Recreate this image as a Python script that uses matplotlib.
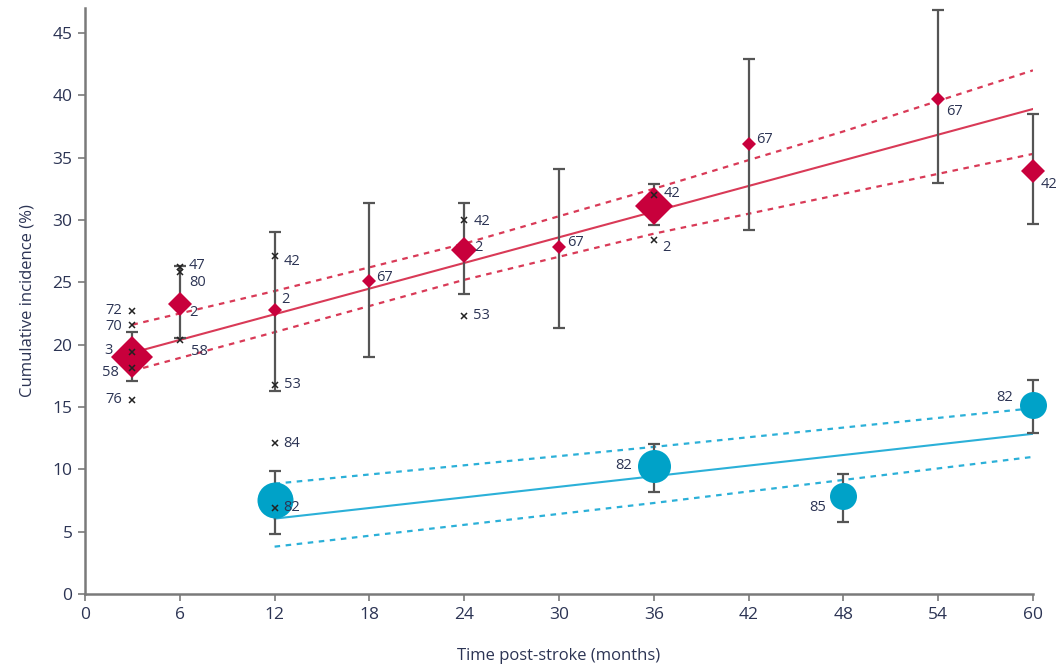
import numpy as np
import matplotlib
matplotlib.use("Agg")
import matplotlib.pyplot as plt

plt.rcParams['font.family'] = ['Open Sans', 'DejaVu Sans']

# pooled estimates (red diamonds) with 95% CI
red_t = [3, 6, 12, 18, 24, 30, 36, 42, 54, 60]
red_val = [19.0, 23.3, 22.8, 25.1, 27.6, 27.8, 31.1, 36.1, 39.7, 33.9]
red_lo = [17.1, 20.5, 16.3, 19.0, 24.1, 21.3, 29.6, 29.2, 33.0, 29.7]
red_hi = [21.0, 26.3, 29.0, 31.4, 31.4, 34.1, 32.9, 42.9, 46.8, 38.5]

# red regression line and its confidence band
red_fit_t = [3, 60]
red_fit = [19.35, 38.9]
red_band_t = [3, 12, 24, 36, 48, 60]
red_band_hi = [21.6, 24.3, 28.1, 32.5, 37.1, 42.0]
red_band_lo = [17.9, 21.0, 25.2, 28.9, 32.1, 35.3]

# blue circles with 95% CI
blue_t = [12, 36, 48, 60]
blue_val = [7.55, 10.3, 7.9, 15.2]
blue_lo = [4.8, 8.2, 5.75, 12.9]
blue_hi = [9.9, 12.0, 9.6, 17.2]

blue_fit_t = [12, 60]
blue_fit = [6.05, 12.85]
blue_band_t = [12, 36, 60]
blue_band_hi = [8.85, 11.8, 14.9]
blue_band_lo = [3.8, 7.3, 11.0]

# individual study estimates (x marks) and study labels
study_t = [3, 3, 3, 3, 3, 6, 6, 6, 6, 12, 12, 12, 12, 12,
           18, 24, 24, 24, 30, 36, 36, 42, 54, 60,
           36, 48, 60]
study_val = [22.7, 21.6, 19.4, 18.1, 15.6, 26.2, 25.8, 23.3, 20.4, 27.1, 22.8, 16.8, 12.1, 6.9,
             25.1, 30.0, 27.6, 22.3, 27.8, 32.0, 28.4, 36.1, 39.7, 33.9,
             10.3, 7.9, 15.2]
study_lab = ['72', '70', '3', '58', '76', '47', '80', '2', '58', '42', '2', '53', '84', '82',
             '67', '42', '2', '53', '67', '42', '2', '67', '67', '42',
             '82', '85', '82']
study_mark = [1, 1, 1, 1, 1, 1, 1, 0, 1, 1, 0, 1, 1, 1,
              0, 1, 0, 1, 0, 1, 1, 0, 0, 0,
              0, 0, 0]

# label offsets in pixels (layout only)
lab_off = [(-10, 0), (-10, -2), (-20, 2), (-14, -4), (-10, 0),
           (9, 2), (9, -10), (9, -9), (11, -12),
           (9, -5), (7, 10), (9, 0), (9, 0), (9, 0),
           (7, 4), (9, -2), (10, 2), (9, 0), (8, 5),
           (10, 2), (8, -8), (8, 4), (8, -12), (8, -13),
           (-22, 0), (-17, -12), (-20, 7)]

# marker widths in pixels (layout only)
red_px = [37, 21, 12, 12, 22, 12, 33, 12, 12, 21]
blue_px = [36, 33, 27, 27]

red_c = '#c8003c'
red_line = '#d93a57'
blue_c = '#00a2c8'
blue_line = '#2bb0d8'
err_c = '#555555'
txt_c = '#2c3454'

fig = plt.figure(figsize=(10.56, 6.67), dpi=100)
ax = fig.add_axes([0.0805, 0.1094, 0.8977, 0.8786])

ax.plot(red_fit_t, red_fit, color=red_line, lw=1.5, zorder=2)
ax.plot(red_band_t, red_band_hi, color=red_line, lw=1.6, ls=(0, (2.5, 2.5)), zorder=2)
ax.plot(red_band_t, red_band_lo, color=red_line, lw=1.6, ls=(0, (2.5, 2.5)), zorder=2)
ax.plot(blue_fit_t, blue_fit, color=blue_line, lw=1.5, zorder=2)
ax.plot(blue_band_t, blue_band_hi, color=blue_line, lw=1.6, ls=(0, (2.5, 2.5)), zorder=2)
ax.plot(blue_band_t, blue_band_lo, color=blue_line, lw=1.6, ls=(0, (2.5, 2.5)), zorder=2)

red_val_a = np.array(red_val)
ax.errorbar(red_t, red_val, yerr=[red_val_a - np.array(red_lo), np.array(red_hi) - red_val_a],
            fmt='none', ecolor=err_c, elinewidth=1.6, capsize=4.2, capthick=1.6, zorder=3,
            clip_on=False)
blue_val_a = np.array(blue_val)
ax.errorbar(blue_t, blue_val, yerr=[blue_val_a - np.array(blue_lo), np.array(blue_hi) - blue_val_a],
            fmt='none', ecolor=err_c, elinewidth=1.6, capsize=4.2, capthick=1.6, zorder=3,
            clip_on=False)

for t, v, px in zip(red_t, red_val, red_px):
    ax.plot(t, v, marker='D', ms=px * 0.59, color=red_c, mec=red_c, mew=0, ls='none', zorder=4,
            clip_on=False)
for t, v, px in zip(blue_t, blue_val, blue_px):
    ax.plot(t, v, marker='o', ms=px * 0.72, color=blue_c, mec=blue_c, mew=0, ls='none', zorder=4,
            clip_on=False)

for t, v, lab, m, off in zip(study_t, study_val, study_lab, study_mark, lab_off):
    if m:
        ax.plot(t, v, marker='x', ms=4.5, mew=1.1, color='#222222', ls='none', zorder=5,
                clip_on=False)
    ha = 'right' if off[0] < 0 else 'left'
    ax.annotate(lab, (t, v), xytext=off, textcoords='offset pixels', ha=ha, va='center',
                fontsize=10.5, color=txt_c, zorder=6, annotation_clip=False)

ax.set_xlim(0, 60)
ax.set_ylim(0, 47)
ax.set_xticks(range(0, 61, 6))
ax.set_yticks(range(0, 46, 5))
for s in ['top', 'right']:
    ax.spines[s].set_visible(False)
for s in ['left', 'bottom']:
    ax.spines[s].set_color('#7a7a7a')
    ax.spines[s].set_linewidth(1.8)
ax.tick_params(direction='out', length=5, width=1.2, color='#7a7a7a', labelcolor=txt_c,
               labelsize=12.5, pad=4)
ax.set_xlabel('Time post-stroke (months)', fontsize=12, color=txt_c, labelpad=18)
ax.set_ylabel('Cumulative incidence (%)', fontsize=12, color=txt_c, labelpad=12)

fig.savefig('out.png', dpi=100)
